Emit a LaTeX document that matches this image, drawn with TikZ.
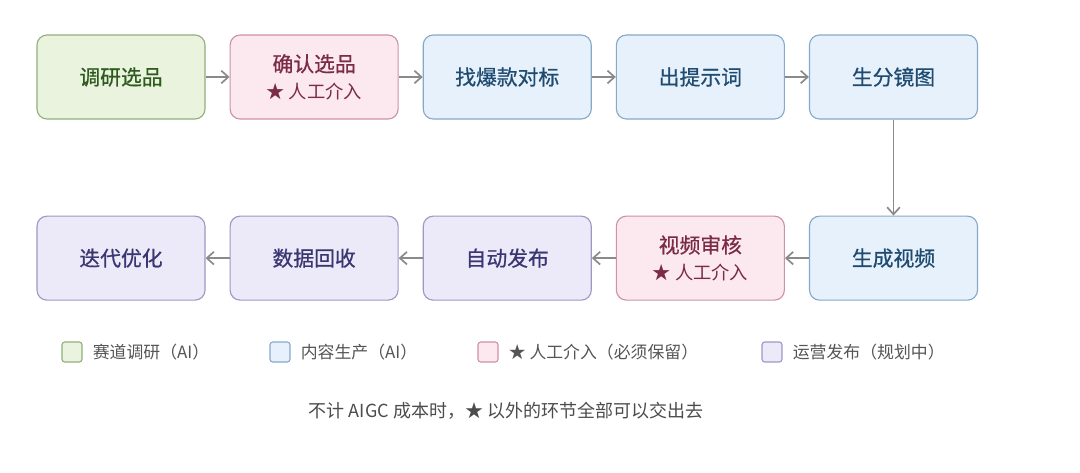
\documentclass[tikz,border=0pt]{standalone}
\usepackage{fontspec}
\setmainfont{Noto Sans CJK SC}
\newfontfamily\boxfont{Noto Sans CJK SC}[FakeBold=0.7]
\usepackage{xcolor}
\usetikzlibrary{arrows.meta,positioning}
\definecolor{greenfill}{HTML}{E9F3DE}
\definecolor{greenline}{HTML}{93AE78}
\definecolor{greentext}{HTML}{2F5A1E}
\definecolor{pinkfill}{HTML}{FCE9EF}
\definecolor{pinkline}{HTML}{CC93A3}
\definecolor{pinktext}{HTML}{7B2B47}
\definecolor{bluefill}{HTML}{E7F1FB}
\definecolor{blueline}{HTML}{86A9C9}
\definecolor{bluetext}{HTML}{1F4B70}
\definecolor{purplefill}{HTML}{ECEAF8}
\definecolor{purpleline}{HTML}{9E98C6}
\definecolor{purpletext}{HTML}{3B3572}
\definecolor{arrowgray}{HTML}{8A8A8A}
\definecolor{legendtext}{HTML}{555555}

\tikzset{
  stage/.style={draw, rounded corners=0.25cm, line width=0.8pt, minimum width=4.2cm, minimum height=2.1cm, align=center, font=\fontsize{14.8}{20}\boxfont},
  research/.style={stage, fill=greenfill, draw=greenline, text=greentext},
  produce/.style={stage, fill=bluefill, draw=blueline, text=bluetext},
  manual/.style={stage, fill=pinkfill, draw=pinkline, text=pinktext},
  publish/.style={stage, fill=purplefill, draw=purpleline, text=purpletext},
  flow/.style={-{Straight Barb[length=5pt,width=9pt]}, arrowgray, line width=1.2pt},
  swatch/.style={draw, rounded corners=2pt, line width=0.8pt, minimum width=0.5cm, minimum height=0.5cm, inner sep=0pt},
  legendlabel/.style={right=0.25cm, text=legendtext, font=\fontsize{12}{14}\selectfont, inner sep=0pt},
}
\newcommand{\manualnote}{\\[-1pt]{\fontsize{13}{15}\rmfamily ★ 人工介入}}

\begin{document}
\begin{tikzpicture}
  \useasboundingbox[fill=white] (0,0) rectangle (27,-11.8);
  % first row
  \node[research] (survey) at (3.025,-1.925) {调研选品};
  \node[manual, right=0.6cm of survey] (confirm) {确认选品\manualnote};
  \node[produce, right=0.6cm of confirm] (benchmark) {找爆款对标};
  \node[produce, right=0.6cm of benchmark] (prompt) {出提示词};
  \node[produce, right=0.6cm of prompt] (storyboard) {生分镜图};
  % second row, right to left
  \node[produce, below=2.4cm of storyboard] (genvideo) {生成视频};
  \node[manual, left=0.6cm of genvideo] (review) {视频审核\manualnote};
  \node[publish, left=0.6cm of review] (autopost) {自动发布};
  \node[publish, left=0.6cm of autopost] (collect) {数据回收};
  \node[publish, left=0.6cm of collect] (iterate) {迭代优化};

  \draw[flow] (survey) -- (confirm);
  \draw[flow] (confirm) -- (benchmark);
  \draw[flow] (benchmark) -- (prompt);
  \draw[flow] (prompt) -- (storyboard);
  \draw[flow] (storyboard) -- (genvideo);
  \draw[flow] (genvideo) -- (review);
  \draw[flow] (review) -- (autopost);
  \draw[flow] (autopost) -- (collect);
  \draw[flow] (collect) -- (iterate);

  % legend
  \node[swatch, fill=greenfill, draw=greenline] (lgreen) at (1.8,-8.8) {};
  \node[legendlabel] at (lgreen.east) {赛道调研（AI）};
  \node[swatch, fill=bluefill, draw=blueline] (lblue) at (7.0,-8.8) {};
  \node[legendlabel] at (lblue.east) {内容生产（AI）};
  \node[swatch, fill=pinkfill, draw=pinkline] (lpink) at (12.2,-8.8) {};
  \node[legendlabel] at (lpink.east) {★ 人工介入（必须保留）};
  \node[swatch, fill=purplefill, draw=purpleline] (lpurple) at (19.3,-8.8) {};
  \node[legendlabel] at (lpurple.east) {运营发布（规划中）};

  \node[text=legendtext!90!black, font=\fontsize{12.8}{15}\selectfont] (footnote) at (12.65,-10.28) {不计 AIGC 成本时，★ 以外的环节全部可以交出去};
\end{tikzpicture}
\end{document}
